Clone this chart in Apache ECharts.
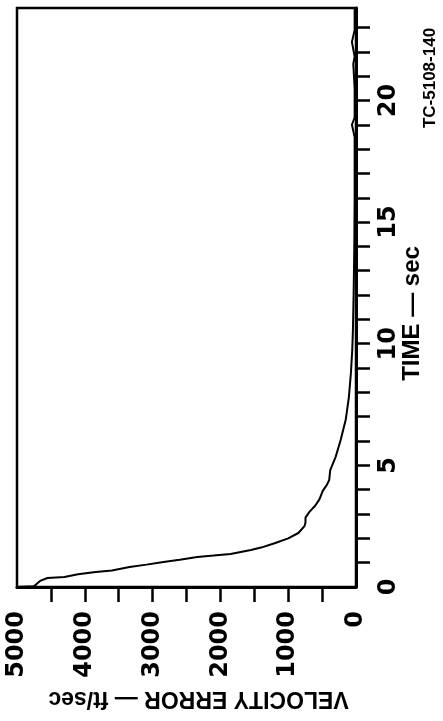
<!DOCTYPE html>
<html>
<head>
<meta charset="utf-8">
<script src="https://cdn.jsdelivr.net/npm/echarts@6/dist/echarts.min.js"></script>
<style>
html,body{margin:0;padding:0;background:#fff;}
#chart{width:443px;height:721px;}
</style>
</head>
<body>
<div id="chart"></div>
<script>
// Data read from the (rotated) reference chart
const timeSec = [0, 0.03, 0.25, 0.37, 0.41, 0.52, 0.62, 0.68, 0.82, 0.92, 1.03, 1.12, 1.23, 1.29, 1.36, 1.52, 1.62, 1.81, 2.0, 2.22, 2.5, 2.65, 2.85, 3.08, 3.35, 3.6, 3.95, 4.2, 4.4, 4.8, 5.35, 6.05, 6.9, 7.8, 8.8, 9.75, 10.6, 12, 14, 16, 18.5, 19.0, 19.3, 20.5, 21.5, 21.8, 22.4, 22.9, 23.8];
const velocityErr = [5000, 4750, 4660, 4550, 4300, 4100, 3840, 3600, 3340, 3090, 2840, 2600, 2340, 2100, 1850, 1550, 1400, 1190, 1000, 850, 760, 745, 745, 690, 600, 540, 490, 430, 395, 380, 300, 225, 150, 105, 75, 55, 45, 35, 25, 20, 20, 60, 20, 20, 40, 20, 60, 20, 20];
const velocityTickValues = [500, 1000, 1500, 2000, 2500, 3000, 3500, 4000, 4500];
const velocityLabelValues = [0, 1000, 2000, 3000, 4000, 5000];
const timeTickValues = [1, 2, 3, 4, 5, 6, 7, 8, 9, 10, 11, 12, 13, 14, 15, 16, 17, 18, 19, 20, 21, 22, 23];
const timeLabelValues = [0, 5, 10, 15, 20];
const xName = 'VELOCITY ERROR — ft/sec';
const yName = 'TIME — sec';
const figureId = 'TC-5108-140';

const chart = echarts.init(document.getElementById('chart'));
const numFont = {fontFamily: 'DejaVu Sans', fontWeight: 'bold', fontSize: 24, color: '#000', formatter: v => String(v)};
chart.setOption({
  backgroundColor: '#fff',
  animation: false,
  grid: {left: 17, right: 87, top: 8, bottom: 134, show: true, borderColor: '#000', borderWidth: 2.5, containLabel: false},
  xAxis: {
    type: 'value', min: 0, max: 5000, inverse: true, position: 'bottom',
    axisLine: {show: true, onZero: false, lineStyle: {color: '#000', width: 3}},
    axisTick: {show: true, inside: false, length: 15, customValues: velocityTickValues, lineStyle: {color: '#000', width: 2.5}},
    axisLabel: Object.assign({customValues: velocityLabelValues, rotate: 90, margin: 24}, numFont),
    splitLine: {show: false},
    name: xName, nameLocation: 'middle', nameRotate: 180, nameGap: 100, nameMoveOverlap: false,
    nameTextStyle: {fontFamily: 'Liberation Sans', fontWeight: 'bold', fontSize: 23, color: '#000', padding: [0, 24, 0, 0]}
  },
  yAxis: {
    type: 'value', min: 0, max: 23.8, position: 'right',
    axisLine: {show: true, onZero: false, lineStyle: {color: '#000', width: 3}},
    axisTick: {show: true, inside: false, length: 14, customValues: timeTickValues, lineStyle: {color: '#000', width: 2.5}},
    axisLabel: Object.assign({customValues: timeLabelValues, rotate: 90, margin: 21}, numFont),
    splitLine: {show: false},
    name: yName, nameLocation: 'middle', nameRotate: 90, nameGap: 44, nameMoveOverlap: false,
    nameTextStyle: {fontFamily: 'Liberation Sans', fontWeight: 'bold', fontSize: 24, color: '#000', padding: [0, 32, 0, 0]}
  },
  graphic: [{
    type: 'text', x: 430, y: 78, rotation: Math.PI / 2,
    style: {text: figureId, font: 'bold 17px "Liberation Sans"', fill: '#000', align: 'center', verticalAlign: 'middle'}
  }],
  series: [{
    type: 'line', showSymbol: false, smooth: false,
    lineStyle: {color: '#000', width: 2},
    data: timeSec.map((t, i) => [velocityErr[i], t])
  }]
});
</script>
</body>
</html>
